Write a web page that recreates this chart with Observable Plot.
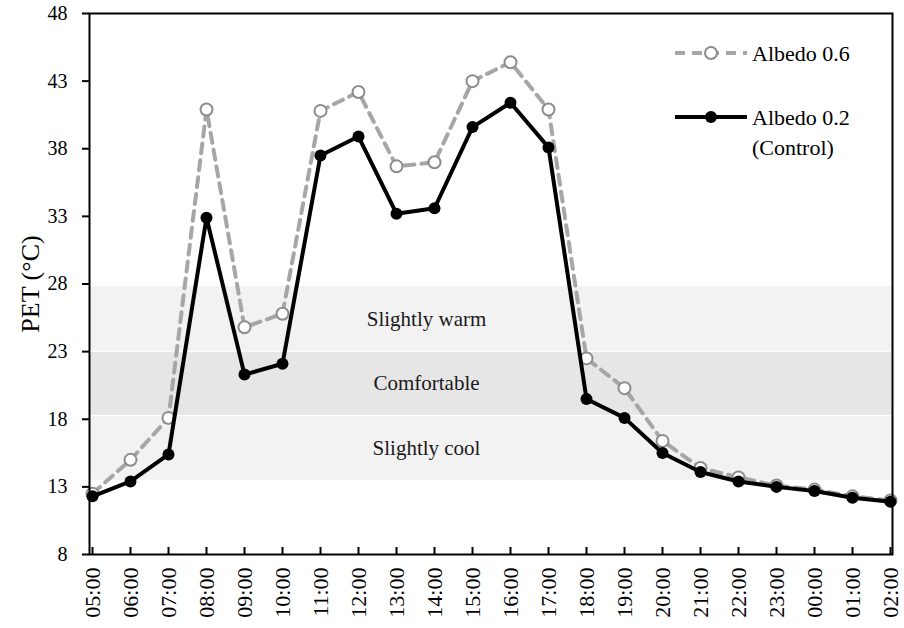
<!DOCTYPE html>
<html>
<head>
<meta charset="utf-8">
<script src="https://cdn.jsdelivr.net/npm/d3@7"></script>
<script src="https://cdn.jsdelivr.net/npm/@observablehq/plot@0.6"></script>
<style>
  html, body { margin: 0; padding: 0; background: #fff; }
  #chart svg { display: block; }
</style>
</head>
<body>
<div id="chart"></div>
<script>
// Hourly time steps from morning to the following night
const hours = ["05:00","06:00","07:00","08:00","09:00","10:00","11:00","12:00","13:00","14:00","15:00","16:00","17:00","18:00","19:00","20:00","21:00","22:00","23:00","00:00","01:00","02:00"];

// PET (°C) for each roof albedo scenario
const petAlbedo06 = [12.5,15.0,18.1,40.9,24.8,25.8,40.8,42.2,36.7,37.0,43.0,44.4,40.9,22.5,20.3,16.4,14.4,13.7,13.1,12.8,12.3,12.0];
const petAlbedo02 = [12.3,13.4,15.4,32.9,21.3,22.1,37.5,38.9,33.2,33.6,39.6,41.4,38.1,19.5,18.1,15.5,14.1,13.4,13.0,12.7,12.2,11.9];

// Thermal sensation classes
const bandNames = ["Slightly cool","Comfortable","Slightly warm"];
const bandLow = [13.45,18.25,23.0];
const bandHigh = [18.25,23.0,27.85];

const yTicks = [8,13,18,23,28,33,38,43,48];

const series06 = hours.map((h, i) => ({hour: h, pet: petAlbedo06[i]}));
const series02 = hours.map((h, i) => ({hour: h, pet: petAlbedo02[i]}));
const bands = bandNames.map((name, i) => ({name, lo: bandLow[i], hi: bandHigh[i]}));

const serif = "'Liberation Serif', 'Times New Roman', serif";

const plot = Plot.plot({
  width: 904,
  height: 628,
  marginLeft: 89,
  marginRight: 12,
  marginTop: 13,
  marginBottom: 74,
  style: {fontFamily: serif, background: "#fff", color: "#000"},
  x: {type: "point", domain: hours, padding: 0, label: null},
  y: {domain: [8, 48], ticks: yTicks, label: null},
  marks: [
    Plot.rect(bands, {
      y1: "lo", y2: "hi",
      fill: (d) => d.name === "Comfortable" ? "#e6e6e6" : "#f2f2f2",
      stroke: "#fff", strokeWidth: 1
    }),
    Plot.text(bands, {
      y: (d) => (d.lo + d.hi) / 2,
      text: "name",
      frameAnchor: "left", textAnchor: "middle", dx: 337,
      fontSize: 21, fill: "#1a1a1a", fontFamily: serif
    }),
    Plot.axisY({
      ticks: yTicks, tickSize: 7, tickPadding: 15,
      fontSize: 20, strokeWidth: 2, tickFormat: d3.format("d"), fontFamily: serif
    }),
    Plot.axisX({
      tickRotate: -90, tickSize: 0, tickPadding: 13, fontSize: 22, fontFamily: serif
    }),
    Plot.tickX(hours, {x: (d) => d, insetTop: 534, stroke: "#000", strokeWidth: 2}),
    Plot.text(["PET (°C)"], {
      text: (d) => d, frameAnchor: "left", textAnchor: "middle", dx: -59, rotate: -90,
      fontSize: 26, fill: "#000", fontFamily: serif
    }),
    Plot.line(series06, {
      x: "hour", y: "pet", stroke: "#a6a6a6", strokeWidth: 4, strokeDasharray: "10,7"
    }),
    Plot.dot(series06, {
      x: "hour", y: "pet", r: 6, fill: "#fff", stroke: "#8c8c8c", strokeWidth: 2
    }),
    Plot.line(series02, {
      x: "hour", y: "pet", stroke: "#000", strokeWidth: 4
    }),
    Plot.dot(series02, {
      x: "hour", y: "pet", r: 6, fill: "#000", stroke: "none"
    }),
    Plot.frame({stroke: "#000", strokeWidth: 2})
  ]
});

document.getElementById("chart").appendChild(plot);

// Legend inside the upper right corner of the frame
const svg = d3.select(plot);
const legend = svg.append("g")
  .attr("font-family", serif).attr("font-size", 22).attr("text-anchor", "start");
const entries = [
  {lines: ["Albedo 0.6"], y: 53, stroke: "#a6a6a6", dash: "10,7", fill: "#fff", dotStroke: "#8c8c8c"},
  {lines: ["Albedo 0.2", "(Control)"], y: 117, stroke: "#000", dash: null, fill: "#000", dotStroke: "none"}
];
for (const e of entries) {
  legend.append("line")
    .attr("x1", 675).attr("x2", 747).attr("y1", e.y).attr("y2", e.y)
    .attr("stroke", e.stroke).attr("stroke-width", 4)
    .attr("stroke-dasharray", e.dash);
  legend.append("circle")
    .attr("cx", 711).attr("cy", e.y).attr("r", 6)
    .attr("fill", e.fill).attr("stroke", e.dotStroke).attr("stroke-width", 2);
  e.lines.forEach((t, i) => {
    legend.append("text")
      .attr("x", 752).attr("y", e.y + i * 30).attr("dy", "0.35em")
      .attr("fill", "#000").text(t);
  });
}
</script>
</body>
</html>
